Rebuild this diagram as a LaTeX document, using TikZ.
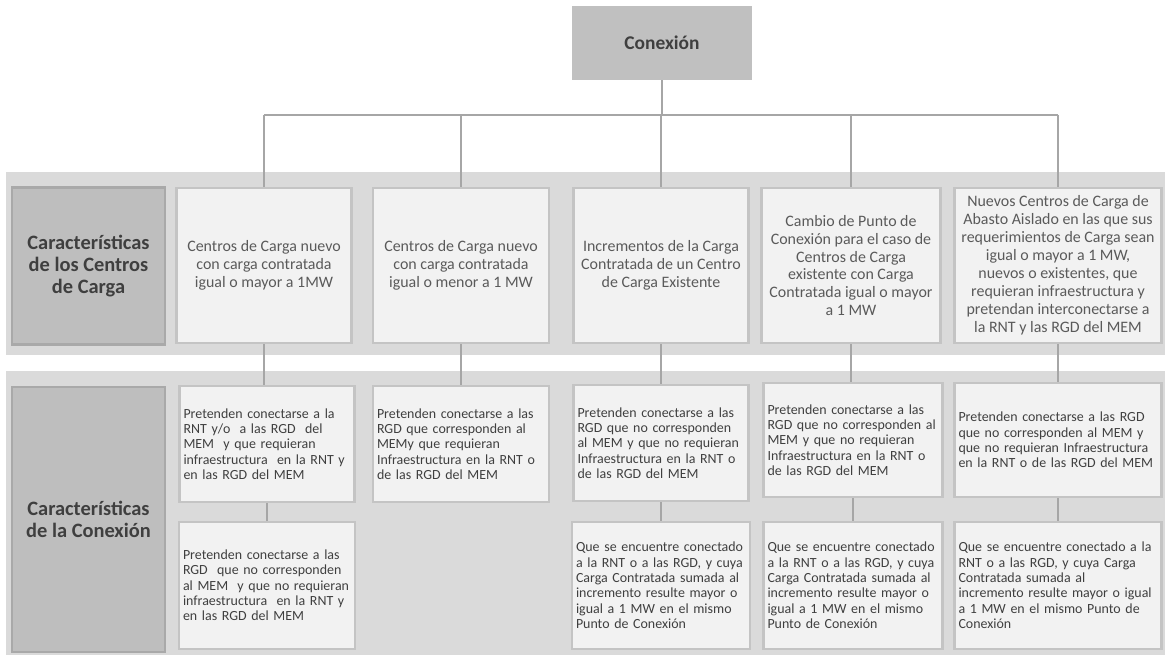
\documentclass[tikz,border=0pt]{standalone}
\usepackage{fontspec}
\setmainfont{Carlito}
\definecolor{band}{HTML}{DADADA}
\definecolor{boxfill}{HTML}{F2F2F2}
\definecolor{boxline}{HTML}{C4C4C4}
\definecolor{labfill}{HTML}{BEBEBE}
\definecolor{labline}{HTML}{A9A9A9}
\definecolor{conn}{HTML}{A6A6A6}
\definecolor{txt}{HTML}{3F3F3F}
\definecolor{txtlight}{HTML}{5A5A5A}
\definecolor{topfill}{HTML}{C0C0C0}
\begin{document}
\begin{tikzpicture}[x=1bp,y=-1bp,
 cell/.style={draw=boxline, line width=2.5bp, fill=boxfill, inner sep=0pt, anchor=center},
 topcell/.style={cell, text=txtlight, align=center, font=\fontsize{16}{18}\selectfont},
 subcell/.style={cell, text=txt, align=left, font=\fontsize{14}{15.4}\selectfont},
 labcell/.style={draw=labline, line width=2.5bp, fill=labfill, text=txt, align=center, inner sep=0pt, font=\fontsize{20.5}{22}\selectfont\bfseries},
 link/.style={draw=conn, line width=1.2bp}]
\useasboundingbox (0,0) rectangle (1165,655);
% bands
\fill[band] (6,172) rectangle (1165,355);
\fill[band] (6,371) rectangle (1165,655);
% root
\node[fill=topfill, minimum width=180bp, minimum height=74bp, inner sep=0pt, text=txt, font=\fontsize{19.5}{22}\selectfont\bfseries] (con) at (662,43) {Conexión};
% labels
\node[labcell, minimum width=153bp, minimum height=157bp] (l1) at (88.5,266) {Características\\de los Centros\\de Carga};
\node[labcell, minimum width=153bp, minimum height=265bp] (l2) at (88.5,519.5) {Características\\de la Conexión};
% row 1
\node[topcell, minimum width=175bp, minimum height=155bp] (a1) at (264,265.5) {Centros de Carga nuevo\\con carga contratada\\igual o mayor a 1MW};
\node[topcell, minimum width=176bp, minimum height=155bp] (a2) at (461,265.5) {Centros de Carga nuevo\\con carga contratada\\igual o menor a 1 MW};
\node[topcell, minimum width=175bp, minimum height=155bp] (a3) at (661,265.5) {Incrementos de la Carga\\Contratada de un Centro\\de Carga Existente};
\node[topcell, minimum width=179bp, minimum height=155bp] (a4) at (851,265.5) {Cambio de Punto de\\Conexión para el caso de\\Centros de Carga\\existente con Carga\\Contratada igual o mayor\\a 1 MW};
\node[topcell, minimum width=207bp, minimum height=155bp] (a5) at (1058,265.5) {Nuevos Centros de Carga de\\Abasto Aislado en las que sus\\requerimientos de Carga sean\\igual o mayor a 1 MW,\\nuevos o existentes, que\\requieran infraestructura y\\pretendan interconectarse a\\la RNT y las RGD del MEM};
% row 2
\node[subcell, text width=167bp, minimum width=175bp, minimum height=116bp] (b1) at (267,444) {Pretenden conectarse a la\\RNT y/o \ a las RGD \ del\\MEM \ y que requieran\\infraestructura \ en la RNT y\\en las RGD del MEM};
\node[subcell, text width=168bp, minimum width=176bp, minimum height=116bp] (b2) at (461,444) {Pretenden conectarse a las\\RGD que corresponden al\\MEMy que requieran\\Infraestructura en la RNT o\\de las RGD del MEM};
\node[subcell, text width=167bp, minimum width=175bp, minimum height=116bp] (b3) at (661,443) {Pretenden conectarse a las\\RGD que no corresponden\\al MEM y que no requieran\\Infraestructura en la RNT o\\de las RGD del MEM};
\node[subcell, text width=171bp, minimum width=179bp, minimum height=114bp] (b4) at (853,440) {Pretenden conectarse a las\\RGD que no corresponden al\\MEM y que no requieran\\Infraestructura en la RNT o\\de las RGD del MEM};
\node[subcell, text width=199bp, minimum width=207bp, minimum height=114bp] (b5) at (1058,440) {Pretenden conectarse a las RGD\\que no corresponden al MEM y\\que no requieran Infraestructura\\en la RNT o de las RGD del MEM};
% row 3
\node[subcell, text width=168bp, minimum width=176bp, minimum height=127bp] (d1) at (267,585.5) {Pretenden conectarse a las\\RGD \ que no corresponden\\al MEM \ y que no requieran\\infraestructura \ en la RNT y\\en las RGD del MEM};
\node[subcell, text width=170bp, minimum width=178bp, minimum height=127bp] (d3) at (661,585.5) {Que se encuentre conectado\\a la RNT o a las RGD, y cuya\\Carga Contratada sumada al\\incremento resulte mayor o\\igual a 1 MW en el mismo\\Punto de Conexión};
\node[subcell, text width=171bp, minimum width=179bp, minimum height=127bp] (d4) at (853,585.5) {Que se encuentre conectado\\a la RNT o a las RGD, y cuya\\Carga Contratada sumada al\\incremento resulte mayor o\\igual a 1 MW en el mismo\\Punto de Conexión};
\node[subcell, text width=199bp, minimum width=207bp, minimum height=127bp] (d5) at (1058,585.5) {Que se encuentre conectado a la\\RNT o a las RGD, y cuya Carga\\Contratada sumada al\\incremento resulte mayor o igual\\a 1 MW en el mismo Punto de\\Conexión};
% connectors
\coordinate (hb) at (0,115);
\draw[link] (con.south) -- (con.south |- hb);
\draw[link] (a1.north |- hb) -- (a5.north |- hb);
\foreach \n in {a1,a2,a3,a4,a5}{\draw[link] (\n.north |- hb) -- (\n.north);}
\draw[link] (a1.south) -- (a1.south |- b1.north);
\draw[link] (a2.south) -- (a2.south |- b2.north);
\draw[link] (a3.south) -- (a3.south |- b3.north);
\draw[link] (a4.south) -- (a4.south |- b4.north);
\draw[link] (a5.south) -- (a5.south |- b5.north);
\draw[link] (b1.south) -- (b1.south |- d1.north);
\draw[link] (b3.south) -- (b3.south |- d3.north);
\draw[link] (b4.south) -- (b4.south |- d4.north);
\draw[link] (b5.south) -- (b5.south |- d5.north);
\end{tikzpicture}
\end{document}
